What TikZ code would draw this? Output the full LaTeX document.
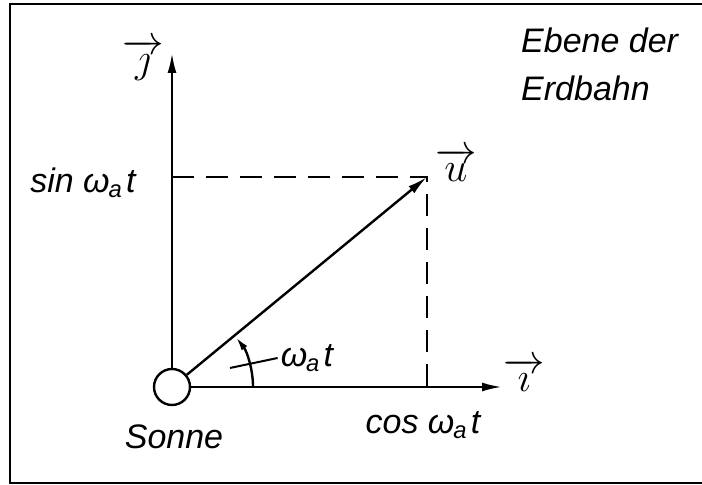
\documentclass[tikz,border=0pt]{standalone}
\usepackage{fontspec}
\usepackage{amsmath}
\setmainfont{Liberation Sans}
\usetikzlibrary{arrows.meta}
\newcommand{\wat}{ω\textsubscript{\kern-0.05em a}\kern0.1em t}

\begin{document}
\begin{tikzpicture}[x=0.5pt, y=0.5pt, line width=1.2pt, >={Latex[length=10pt,width=4.5pt]},
  lbl/.style={font=\fontsize{17}{24}\selectfont\itshape, inner sep=1pt},
  vec/.style={font=\fontsize{21}{24}\selectfont, inner sep=1pt},
  proj/.style={dash pattern=on 11pt off 6pt}]
\useasboundingbox (0,0) rectangle (702,485);
% frame
\draw[line width=1.4pt] (702,481) -- (10,481) -- (10,2) -- (702,2);
% sun and axes
\node[circle, draw, minimum size=18pt, inner sep=0pt] (sun) at (172,98) {};
\coordinate (jtip) at (172,432);
\coordinate (itip) at (502,98);
\coordinate (utip) at (427,308);
\coordinate (yproj) at (172,308);
\coordinate (xproj) at (427,90);
\draw[->] (sun.north) -- (jtip);
\draw[->] (sun.east) -- (itip);
\draw[->] (sun) -- (utip);
\draw[proj] (yproj) -- (utip) -- (xproj);
% angle
\draw[-{Latex[length=7pt,width=3.5pt]}] ([shift={(0:81)}]sun.center) arc[start angle=0, end angle=38, radius=81];
\node[lbl] (wlbl) at (307,127) {\wat};
\coordinate (tickend) at (230,117);
\draw[line width=1pt] (wlbl.west) -- (tickend);
% labels
\node[lbl, anchor=west, align=left] (ebene) at (518,421) {Ebene der\\Erdbahn};
\node[vec] (jlbl) at (143,425) {$\overrightarrow{\jmath}$};
\node[vec] (ulbl) at (456,320) {$\overrightarrow{u}$};
\node[vec] (ilbl) at (524,110) {$\overrightarrow{\imath}$};
\node[lbl] (sinlbl) at (83,302) {sin \wat};
\node[lbl] (coslbl) at (423,60) {cos \wat};
\node[lbl] (sonne) at (174,48) {Sonne};
\end{tikzpicture}
\end{document}
